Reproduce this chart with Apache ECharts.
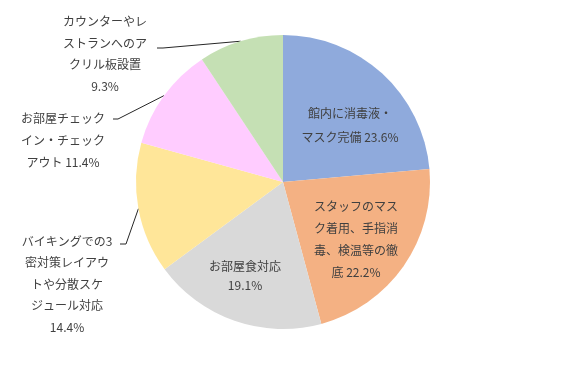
<!DOCTYPE html>
<html>
<head>
<meta charset="utf-8">
<script src="https://cdn.jsdelivr.net/npm/echarts@6/dist/echarts.min.js"></script>
<style>html,body{margin:0;padding:0;background:#fff;}#chart{width:567px;height:365px;}</style>
</head>
<body>
<div id="chart"></div>
<script>
// Data
const categories = [
  '館内に消毒液・\nマスク完備',
  'スタッフのマス\nク着用、手指消\n毒、検温等の徹\n底',
  'お部屋食対応',
  'バイキングでの3\n密対策レイアウ\nトや分散スケ\nジュール対応',
  'お部屋チェック\nイン・チェック\nアウト',
  'カウンターやレ\nストランへのア\nクリル板設置'
];
const values = [23.6, 22.2, 19.1, 14.4, 11.4, 9.3];
const valueSeparators = [' ', ' ', '\n', '\n', ' ', '\n'];

// Styles / layout
const colors = ['#8FAADC', '#F4B183', '#D9D9D9', '#FFE699', '#FFCCFF', '#C5E0B4'];
const labelCenters = [[350, 125], [356, 239], [245, 276], [67, 284], [63, 140], [105, 54]];
const labelLineHeights = [24, 22, 19, 21.5, 22, 21.7];
const leaderEnds = [null, null, null, [[126, 244], [120, 244]], [[118, 119], [113, 119]], [[163, 48], [157, 48]]];

const chart = echarts.init(document.getElementById('chart'), null, {renderer: 'canvas'});
const data = categories.map((c, i) => ({
  name: c,
  value: values[i],
  itemStyle: {color: colors[i]},
  label: {
    position: i < 3 ? 'inside' : 'outside',
    lineHeight: labelLineHeights[i]
  },
  labelLine: {show: i >= 3}
}));

chart.setOption({
  animation: false,
  series: [{
    type: 'pie',
    center: [283, 182],
    radius: [0, 147],
    startAngle: 90,
    clockwise: true,
    data: data,
    itemStyle: {borderWidth: 0},
    label: {
      color: '#404040',
      fontSize: 12,
      fontFamily: '"Noto Sans CJK JP", "Noto Sans", sans-serif',
      align: 'center',
      formatter: p => p.name + valueSeparators[p.dataIndex] + p.value.toFixed(1) + '%'
    },
    labelLine: {
      lineStyle: {color: '#262626', width: 1},
      length: 10,
      length2: 10
    },
    labelLayout: function (params) {
      const i = params.dataIndex;
      const out = {
        x: labelCenters[i][0],
        y: labelCenters[i][1],
        align: 'center',
        verticalAlign: 'middle'
      };
      if (leaderEnds[i] && params.labelLinePoints) {
        out.labelLinePoints = [params.labelLinePoints[0], leaderEnds[i][0], leaderEnds[i][1]];
      }
      return out;
    }
  }]
});
</script>
</body>
</html>
